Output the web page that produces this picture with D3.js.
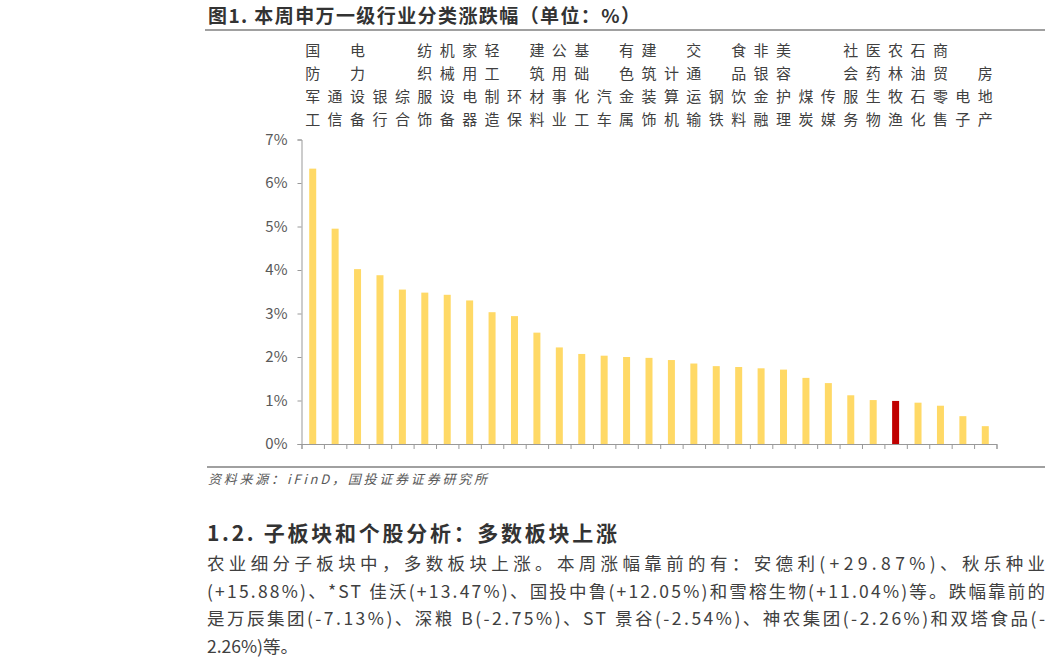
<!DOCTYPE html>
<html lang="zh">
<head>
    <meta charset="UTF-8">
    <title>本周申万一级行业分类涨跌幅</title>
    <script src="https://d3js.org/d3.v7.min.js"></script>
    <style>
        body { margin: 0; background: white; }
        text { font-family: "Noto Sans CJK SC", "Liberation Sans", sans-serif; }
    </style>
</head>
<body>
    <svg id="svg1" width="1051" height="672" style="background: white"></svg>

    <script>
        // data ----------------------------------------------------------------
        const industries = ["国防军工", "通信", "电力设备", "银行", "综合", "纺织服饰", "机械设备",
            "家用电器", "轻工制造", "环保", "建筑材料", "公用事业", "基础化工", "汽车", "有色金属",
            "建筑装饰", "计算机", "交通运输", "钢铁", "食品饮料", "非银金融", "美容护理", "煤炭",
            "传媒", "社会服务", "医药生物", "农林牧渔", "石油石化", "商贸零售", "电子", "房地产"];
        const weeklyChange = [6.33, 4.95, 4.02, 3.88, 3.55, 3.48, 3.43, 3.30, 3.03, 2.94, 2.56,
            2.22, 2.07, 2.03, 2.00, 1.98, 1.93, 1.85, 1.79, 1.77, 1.74, 1.71, 1.52, 1.40, 1.12,
            1.01, 0.99, 0.95, 0.88, 0.64, 0.41];
        const highlighted = ["农林牧渔"];
        const yTicks = [0, 1, 2, 3, 4, 5, 6, 7];

        const titleText = "图1. 本周申万一级行业分类涨跌幅（单位：%）";
        const sourceText = "资料来源：iFinD，国投证券证券研究所";
        const headingText = "1.2. 子板块和个股分析：多数板块上涨";
        const paragraphLines = [
            "农业细分子板块中，多数板块上涨。本周涨幅靠前的有：安德利(+29.87%)、秋乐种业",
            "(+15.88%)、*ST 佳沃(+13.47%)、国投中鲁(+12.05%)和雪榕生物(+11.04%)等。跌幅靠前的",
            "是万辰集团(-7.13%)、深粮 B(-2.75%)、ST 景谷(-2.54%)、神农集团(-2.26%)和双塔食品(-",
            "2.26%)等。"
        ];

        // layout --------------------------------------------------------------
        const svg = d3.select("svg#svg1");
        const plot = {left: 301.5, right: 996.5, top: 139.5, bottom: 444};
        const labelRows = [49, 72, 95, 118];

        const xScale = d3.scaleBand().domain(industries).range([plot.left, plot.right]);
        const idxScale = d3.scaleLinear().domain([0, industries.length]).range([plot.left, plot.right]);
        const yScale = d3.scaleLinear().domain([0, 7]).range([plot.bottom, plot.top]);
        const barW = 7;

        // title + rule
        svg.append("text")
            .text(titleText)
            .attr("x", 208).attr("y", 23)
            .attr("font-size", 19).attr("font-weight", "bold")
            .attr("fill", "#333")
            .attr("textLength", 432).attr("lengthAdjust", "spacing");
        svg.append("line")
            .attr("x1", 205).attr("x2", 1045).attr("y1", 30).attr("y2", 30)
            .attr("stroke", "#808080").attr("stroke-width", 1.5);

        // axes
        const yAxis = svg.append("g")
            .attr("transform", `translate(${plot.left},0)`)
            .call(d3.axisLeft(yScale).tickValues(yTicks).tickSize(4).tickPadding(10)
                .tickFormat(d => d + "%"));
        yAxis.selectAll("text")
            .attr("font-family", "Liberation Sans, Arial, sans-serif")
            .attr("font-size", 15).attr("fill", "#595959");

        const xAxis = svg.append("g")
            .attr("transform", `translate(0,${plot.bottom})`)
            .call(d3.axisBottom(idxScale).tickValues(d3.range(industries.length + 1))
                .tickSize(5).tickFormat(""));

        [yAxis, xAxis].forEach(g => {
            g.select(".domain").attr("stroke", "#999");
            g.selectAll(".tick line").attr("stroke", "#999");
        });

        // bars
        svg.append("g").selectAll("rect")
            .data(industries)
            .join("rect")
            .attr("x", d => xScale(d) + xScale.bandwidth() / 2 - barW / 2)
            .attr("width", barW)
            .attr("y", (d, i) => yScale(weeklyChange[i]))
            .attr("height", (d, i) => yScale(0) - yScale(weeklyChange[i]))
            .attr("fill", d => highlighted.includes(d) ? "#C00000" : "#FFD966");

        // vertical category labels, bottom aligned
        const labels = svg.append("g");
        industries.forEach(name => {
            const chars = Array.from(name);
            const start = labelRows.length - chars.length;
            chars.forEach((ch, j) => {
                labels.append("text")
                    .text(ch)
                    .attr("x", xScale(name) + xScale.bandwidth() / 2)
                    .attr("y", labelRows[start + j])
                    .attr("text-anchor", "middle")
                    .attr("dominant-baseline", "central")
                    .attr("font-size", 15)
                    .attr("fill", "#404040");
            });
        });

        // source
        svg.append("line")
            .attr("x1", 207).attr("x2", 1045).attr("y1", 467).attr("y2", 467)
            .attr("stroke", "#808080").attr("stroke-width", 1.5);
        svg.append("text")
            .text(sourceText)
            .attr("x", 208).attr("y", 484)
            .attr("font-size", 13).attr("font-style", "italic")
            .attr("fill", "#595959")
            .attr("textLength", 279).attr("lengthAdjust", "spacing");

        // heading + paragraph
        svg.append("text")
            .text(headingText)
            .attr("x", 207).attr("y", 541)
            .attr("font-size", 21).attr("font-weight", "bold")
            .attr("fill", "#333")
            .attr("textLength", 410).attr("lengthAdjust", "spacing");

        paragraphLines.forEach((line, i) => {
            const t = svg.append("text")
                .text(line)
                .attr("x", 207).attr("y", 570 + i * 27.5)
                .attr("font-size", 17.5)
                .attr("fill", "#404040");
            if (i < paragraphLines.length - 1) {
                t.attr("textLength", 838).attr("lengthAdjust", "spacing");
            }
        });
    </script>
</body>
</html>
